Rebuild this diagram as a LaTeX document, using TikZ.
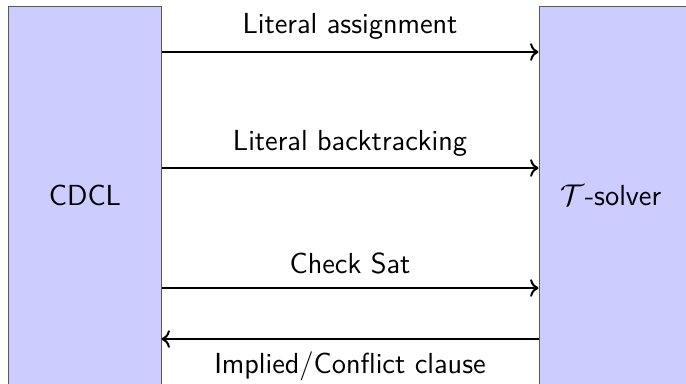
\documentclass[tikz,border=0pt]{standalone}
\usetikzlibrary{arrows.meta}
\begin{document}
\begin{tikzpicture}[x=0.4pt,y=-0.4pt,
  box/.style={draw=black!65,fill=blue!20,line width=0.4pt,inner sep=0pt},
  arr/.style={->,line width=0.8pt},
  lbl/.style={font=\sffamily\fontsize{11.6pt}{14pt}\selectfont,anchor=base,inner sep=0pt}]
\useasboundingbox (0,0) rectangle (686,383);
\clip (0,0) rectangle (686,383);
\node[box,minimum width=60.8pt,minimum height=157.6pt] (L) at (85,203) {};
\node[box,minimum width=64.4pt,minimum height=157.6pt] (R) at (619.5,203) {};
\node[lbl] (cdcl) at (85,205) {CDCL};
\node[lbl] (ts) at (611,205) {$\mathcal{T}$-solver};
\coordinate (a1) at (0,52);
\coordinate (a2) at (0,168);
\coordinate (a3) at (0,288);
\coordinate (a4) at (0,339);
\draw[arr] (L.east |- a1) -- (R.west |- a1);
\draw[arr] (L.east |- a2) -- (R.west |- a2);
\draw[arr] (L.east |- a3) -- (R.west |- a3);
\draw[arr] (R.west |- a4) -- (L.east |- a4);
\node[lbl] (t1) at (350,33) {Literal assignment};
\node[lbl] (t2) at (350,150) {Literal backtracking};
\node[lbl] (t3) at (350,273) {Check Sat};
\node[lbl] (t4) at (350,373) {Implied/Conflict clause};
\end{tikzpicture}
\end{document}
